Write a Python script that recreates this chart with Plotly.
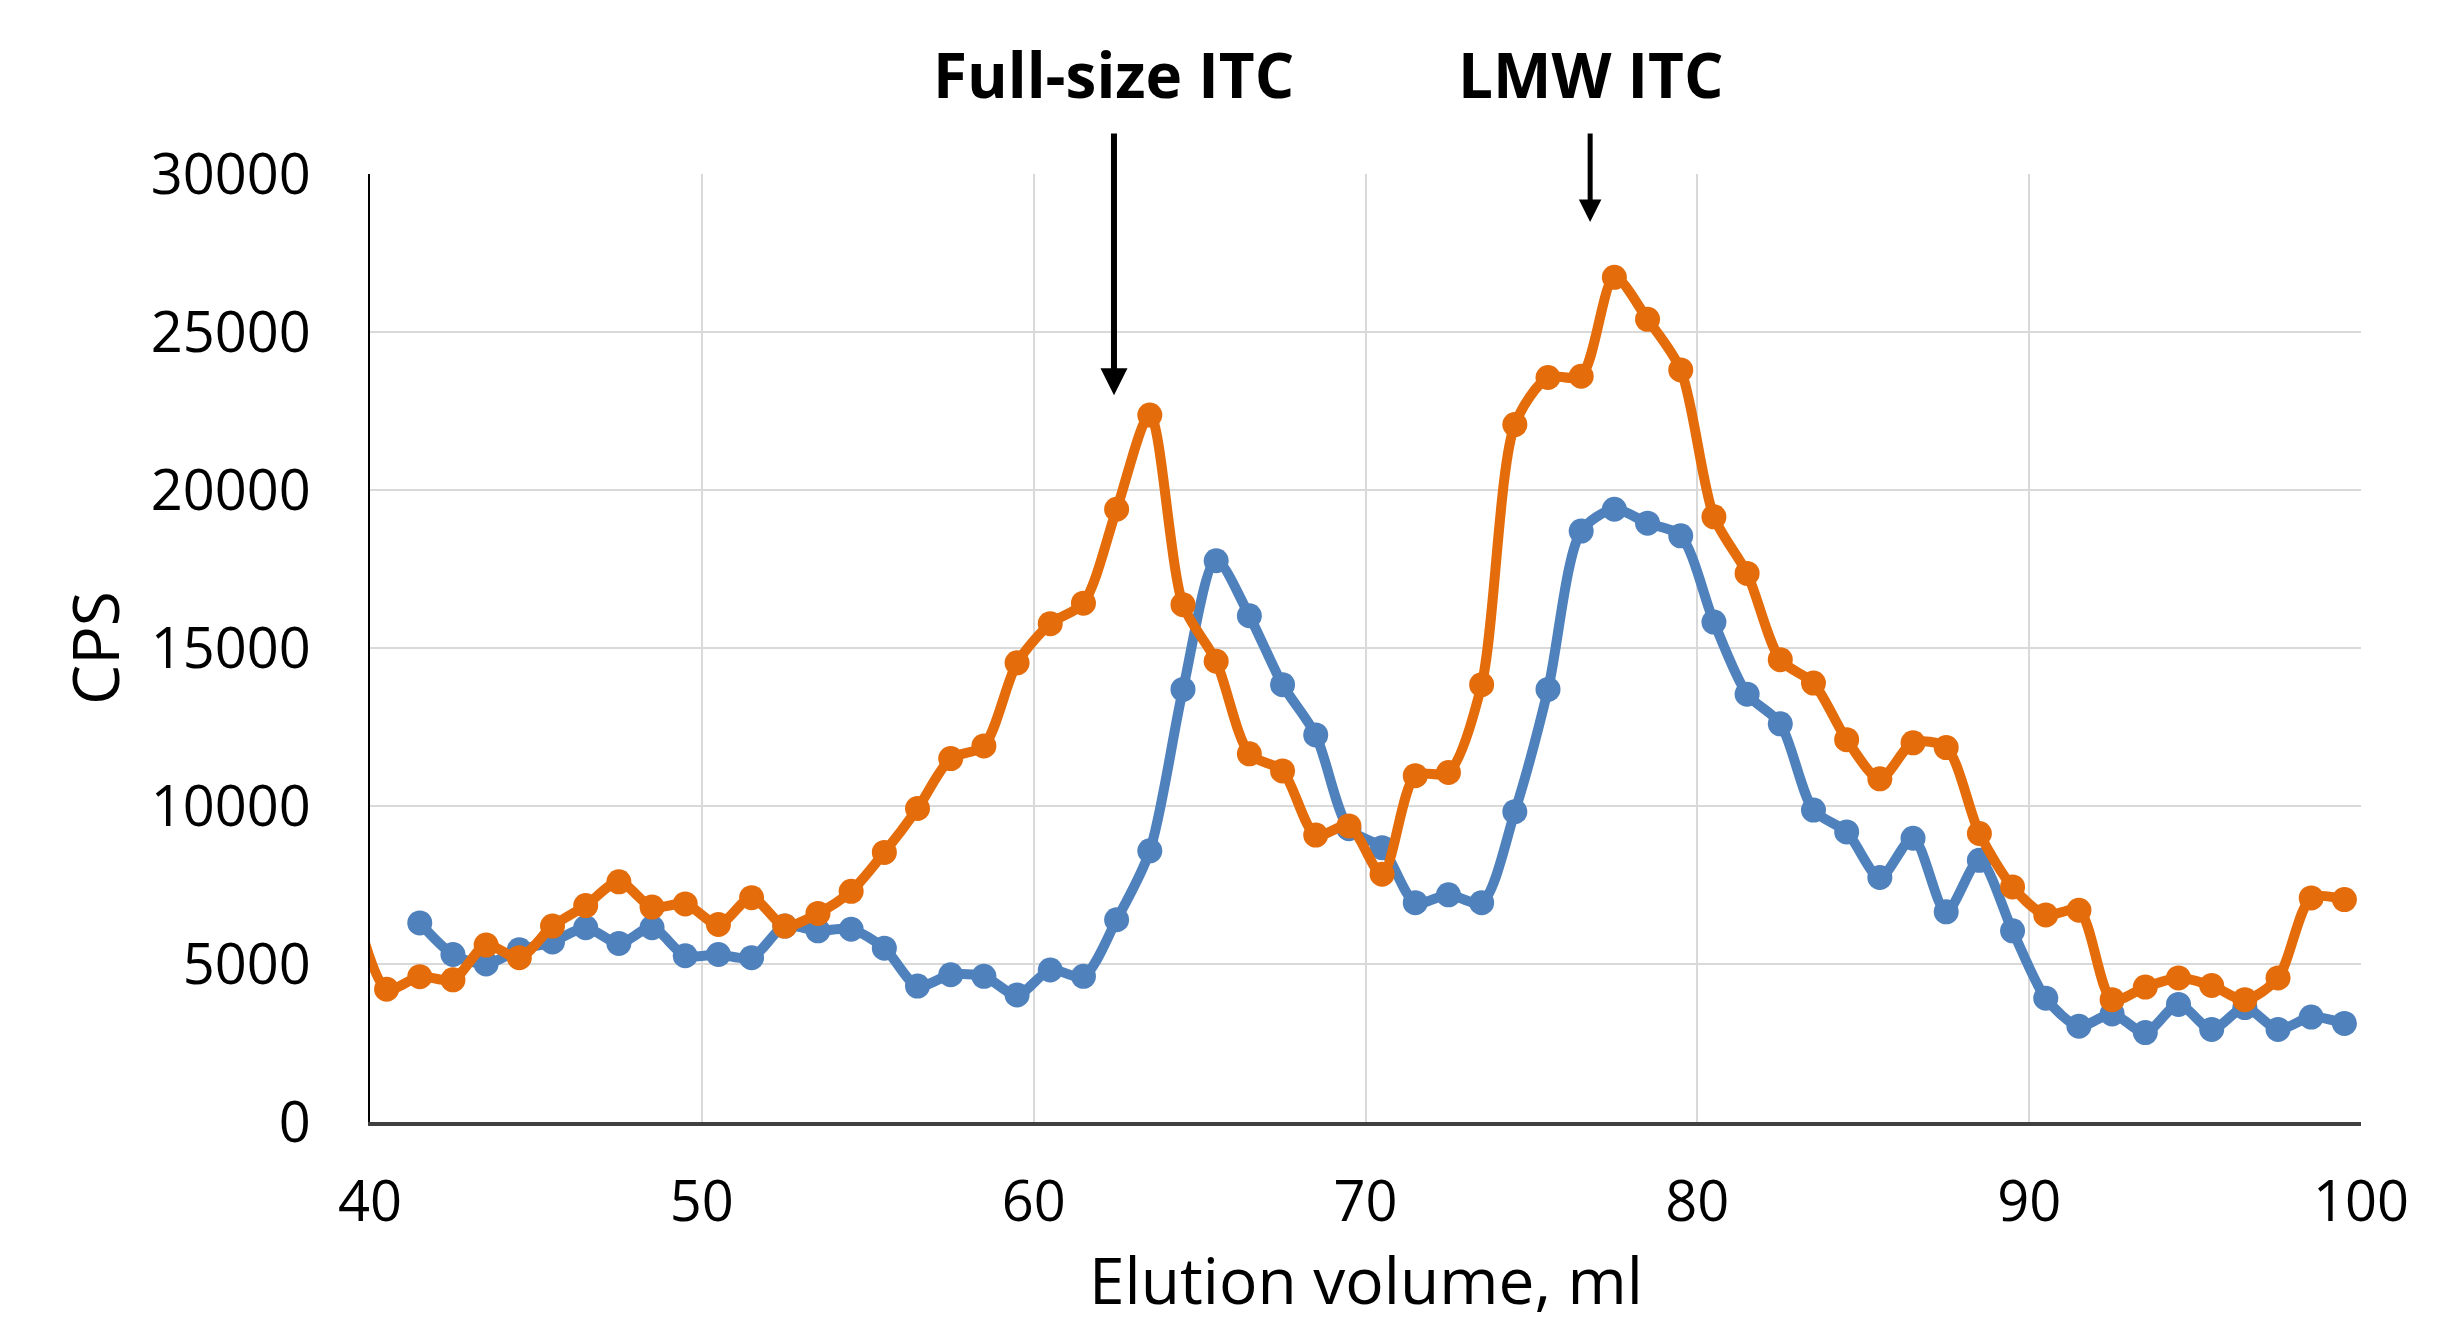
import plotly.graph_objects as go

# Elution volume (ml) and CPS values
orange_x = [39.5, 40.5, 41.5, 42.5, 43.5, 44.5, 45.5, 46.5, 47.5, 48.5, 49.5,
            50.5, 51.5, 52.5, 53.5, 54.5, 55.5, 56.5, 57.5, 58.5, 59.5,
            60.5, 61.5, 62.5, 63.5, 64.5, 65.5, 66.5, 67.5, 68.5, 69.5,
            70.5, 71.5, 72.5, 73.5, 74.5, 75.5, 76.5, 77.5, 78.5, 79.5,
            80.5, 81.5, 82.5, 83.5, 84.5, 85.5, 86.5, 87.5, 88.5, 89.5,
            90.5, 91.5, 92.5, 93.5, 94.5, 95.5, 96.5, 97.5, 98.5, 99.5]
orange_y = [7000, 4200, 4600, 4500, 5600, 5200, 6200, 6850, 7600, 6800, 6900,
            6250, 7100, 6200, 6600, 7300, 8530, 9920, 11500, 11900, 14530,
            15770, 16420, 19390, 22370, 16370, 14580, 11650, 11110, 9080, 9370,
            7840, 10960, 11060, 13840, 22070, 23560, 23600, 26730, 25400, 23800,
            19150, 17360, 14630, 13890, 12100, 10860, 12000, 11850, 9130, 7440,
            6550, 6700, 3870, 4270, 4560, 4320, 3870, 4560, 7090, 7040]

blue_x = [41.5, 42.5, 43.5, 44.5, 45.5, 46.5, 47.5, 48.5, 49.5,
          50.5, 51.5, 52.5, 53.5, 54.5, 55.5, 56.5, 57.5, 58.5, 59.5,
          60.5, 61.5, 62.5, 63.5, 64.5, 65.5, 66.5, 67.5, 68.5, 69.5,
          70.5, 71.5, 72.5, 73.5, 74.5, 75.5, 76.5, 77.5, 78.5, 79.5,
          80.5, 81.5, 82.5, 83.5, 84.5, 85.5, 86.5, 87.5, 88.5, 89.5,
          90.5, 91.5, 92.5, 93.5, 94.5, 95.5, 96.5, 97.5, 98.5, 99.5]
blue_y = [6300, 5300, 5000, 5450, 5700, 6150, 5650, 6150, 5260,
          5300, 5200, 6200, 6050, 6100, 5500, 4300, 4660, 4610, 4020,
          4810, 4610, 6400, 8580, 13690, 17760, 16020, 13840, 12250, 9280,
          8680, 6940, 7190, 6940, 9820, 13690, 18700, 19390, 18950, 18550,
          15820, 13540, 12600, 9870, 9180, 7740, 8980, 6650, 8280, 6050,
          3920, 3030, 3420, 2830, 3720, 2930, 3620, 2930, 3320, 3120]

x_ticks = [40, 50, 60, 70, 80, 90, 100]
y_ticks = [0, 5000, 10000, 15000, 20000, 25000, 30000]

labels = ["Full-size ITC", "LMW ITC"]
label_x = [62.42, 76.77]
arrow_tip = [23000, 28480]
arrow_tail = [31330, 31330]

BLUE = "#4F81BD"
ORANGE = "#E46C0A"
FONT = "Open Sans"

fig = go.Figure()
fig.add_trace(go.Scatter(
    x=blue_x, y=blue_y, mode="lines+markers",
    line=dict(color=BLUE, width=10, shape="spline", smoothing=0.8),
    marker=dict(color=BLUE, size=25), showlegend=False))
fig.add_trace(go.Scatter(
    x=orange_x, y=orange_y, mode="lines+markers",
    line=dict(color=ORANGE, width=10, shape="spline", smoothing=0.8),
    marker=dict(color=ORANGE, size=25), showlegend=False))

annotations = []
for i, t in enumerate(labels):
    annotations.append(dict(
        x=label_x[i], xref="x", y=1.105, yref="paper", text="<b>%s</b>" % t,
        showarrow=False, font=dict(family=FONT, size=62, color="black"),
        xanchor="center", yanchor="middle"))
    annotations.append(dict(
        x=label_x[i], y=arrow_tip[i], xref="x", yref="y",
        ax=label_x[i], ay=arrow_tail[i], axref="x", ayref="y",
        text="", showarrow=True, arrowhead=2, arrowsize=0.9,
        arrowwidth=6 if i == 0 else 5, arrowcolor="black", standoff=0))

annotations.append(dict(
    x=-0.1386, xref="paper", y=0.5, yref="paper", text="CPS",
    textangle=-90, showarrow=False, font=dict(family=FONT, size=64, color="black"),
    xanchor="center", yanchor="middle"))
annotations.append(dict(
    x=0.5, xref="paper", y=-0.166, yref="paper", text="Elution volume, ml",
    showarrow=False, font=dict(family=FONT, size=64, color="black"),
    xanchor="center", yanchor="middle"))

fig.update_layout(
    width=2457, height=1326,
    margin=dict(l=370, r=96, t=174, b=204),
    paper_bgcolor="white", plot_bgcolor="white",
    annotations=annotations,
    font=dict(family=FONT, color="black"),
)
fig.update_xaxes(
    range=[40, 100], tickvals=x_ticks, ticktext=[str(v) for v in x_ticks],
    showgrid=True, gridcolor="#d9d9d9", gridwidth=2,
    showline=True, linecolor="#404040", linewidth=4,
    ticks="", ticklabelstandoff=28,
    tickfont=dict(family=FONT, size=56, color="black"), zeroline=False)
fig.update_yaxes(
    range=[0, 30000], tickvals=y_ticks, ticktext=[str(v) for v in y_ticks],
    showgrid=True, gridcolor="#d9d9d9", gridwidth=2,
    showline=True, linecolor="black", linewidth=2,
    ticks="", ticklabelstandoff=46,
    tickfont=dict(family=FONT, size=56, color="black"), zeroline=False)

fig.write_html("out.html")
